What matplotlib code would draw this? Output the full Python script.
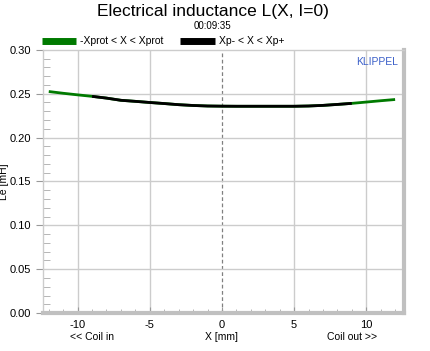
import numpy as np
import matplotlib

matplotlib.use("Agg")
import matplotlib.pyplot as plt
from matplotlib.ticker import MultipleLocator

plt.rcParams["font.family"] = ["Liberation Sans", "DejaVu Sans"]
plt.rcParams["axes.unicode_minus"] = False

# displacement [mm] and inductance Le [mH]
x_mm = [-12, -11, -10, -9, -8, -7, -6, -5, -4, -3, -2, -1, 0,
        1, 2, 3, 4, 5, 6, 7, 8, 9, 10, 11, 12]
le_mh = [0.2525, 0.2505, 0.2487, 0.2470, 0.2450, 0.2425, 0.2413, 0.2400,
         0.2388, 0.2375, 0.2366, 0.2360, 0.2358, 0.2357, 0.2357, 0.2357,
         0.2357, 0.2357, 0.2360, 0.2367, 0.2378, 0.2390, 0.2405, 0.2420,
         0.2434]
xp_lo, xp_hi = -9, 9
x_ticks = [-10, -5, 0, 5, 10]
y_ticks = [0.00, 0.05, 0.10, 0.15, 0.20, 0.25, 0.30]

x = np.array(x_mm)
y = np.array(le_mh)
inner = (x >= xp_lo) & (x <= xp_hi)

fig = plt.figure(figsize=(4.30, 3.51), dpi=100)
ax = fig.add_axes([0.100, 0.108, 0.839, 0.750])

ax.plot(x, y, color="#007a00", lw=2.0, solid_capstyle="butt",
        label="-Xprot < X < Xprot", zorder=3)
ax.plot(x[inner], y[inner], color="black", lw=2.0, solid_capstyle="butt",
        label="Xp- < X < Xp+", zorder=4)

ax.set_xlim(-12.4, 12.6)
ax.set_ylim(0, 0.30)
ax.set_xticks(x_ticks)
ax.set_yticks(y_ticks)
ax.set_yticklabels([f"{v:.2f}" for v in y_ticks])
ax.xaxis.set_minor_locator(MultipleLocator(1))
ax.yaxis.set_minor_locator(MultipleLocator(0.01))

for v in x_ticks:
    if v == 0:
        ax.axvline(v, color="#808080", lw=0.9, ls=(0, (3, 2)), zorder=1)
    else:
        ax.axvline(v, color="#cccccc", lw=1.0, zorder=1)
for v in y_ticks[1:-1]:
    ax.axhline(v, color="#cccccc", lw=1.0, zorder=1)

ax.tick_params(axis="both", which="major", labelsize=8, color="#999999")
ax.tick_params(axis="y", which="major", direction="out", length=5)
ax.tick_params(axis="y", which="minor", direction="in", length=5, color="#aaaaaa")
ax.tick_params(axis="x", which="major", direction="in", length=4, pad=5)
ax.tick_params(axis="x", which="minor", direction="in", length=3, color="#aaaaaa")

for s in ["left", "top"]:
    ax.spines[s].set_color("#cccccc")
    ax.spines[s].set_linewidth(1.0)
ax.spines["right"].set_color("#c0c0c0")
ax.spines["right"].set_linewidth(3)
ax.spines["bottom"].set_color("#c0c0c0")
ax.spines["bottom"].set_linewidth(3)

ax.set_ylabel("Le [mH]", fontsize=7.5)
ax.yaxis.set_label_coords(-0.093, 0.5)
ax.text(0, -0.092, "X [mm]", transform=ax.get_xaxis_transform(),
        ha="center", va="center", fontsize=7.5)
ax.text(-9.0, -0.092, "<< Coil in", transform=ax.get_xaxis_transform(),
        ha="center", va="center", fontsize=7.5)
ax.text(9.0, -0.092, "Coil out >>", transform=ax.get_xaxis_transform(),
        ha="center", va="center", fontsize=7.5)

ax.text(0.985, 0.955, "KLIPPEL", transform=ax.transAxes, ha="right",
        va="center", fontsize=7.5, color="#3a5fc8")

fig.text(0.496, 0.966, "Electrical inductance L(X, I=0)", ha="center",
         va="center", fontsize=12.5)
fig.text(0.494, 0.925, "00:09:35", ha="center", va="center", fontsize=7)

fig.legend(loc="center left", bbox_to_anchor=(0.085, 0.882), ncol=2,
           frameon=False, fontsize=7.5, handlelength=3.3, handleheight=0.6,
           columnspacing=1.6, handletextpad=0.4, borderpad=0)
for line in fig.legends[0].get_lines():
    line.set_linewidth(5)

fig.savefig("out.png", dpi=100)
